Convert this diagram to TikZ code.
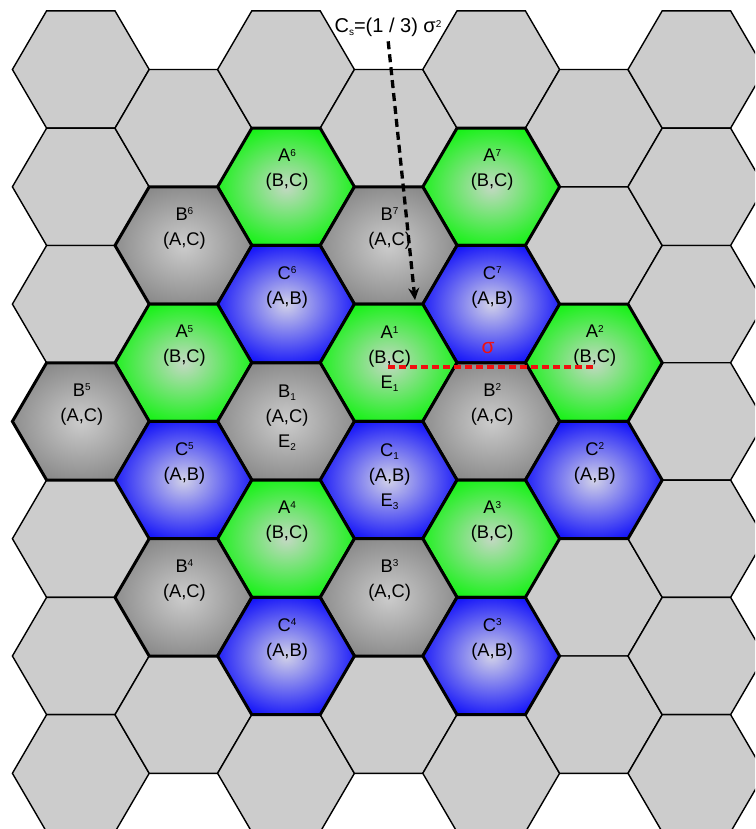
\documentclass[tikz,border=0pt]{standalone}
\usepackage{fontspec}
\setmainfont{Liberation Sans}
\usetikzlibrary{arrows.meta}
\definecolor{cellgray}{RGB}{204,204,204}
\definecolor{greenedge}{RGB}{22,242,22}
\definecolor{greenmid}{RGB}{196,216,196}
\definecolor{blueedge}{RGB}{6,6,250}
\definecolor{bluemid}{RGB}{210,210,232}
\definecolor{grayedge}{RGB}{100,100,100}
\definecolor{graymid}{RGB}{204,204,204}
\definecolor{sigmared}{RGB}{240,16,16}
\pgfdeclareradialshading{greenglow}{\pgfpoint{0bp}{0bp}}{color(0bp)=(greenmid); color(27bp)=(greenedge); color(50bp)=(greenedge)}
\pgfdeclareradialshading{blueglow}{\pgfpoint{0bp}{0bp}}{color(0bp)=(bluemid); color(29bp)=(blueedge); color(50bp)=(blueedge)}
\pgfdeclareradialshading{grayglow}{\pgfpoint{0bp}{0bp}}{color(0bp)=(graymid); color(42bp)=(grayedge); color(50bp)=(grayedge)}
\newcommand{\sups}[1]{\raisebox{5.6pt}{\fontsize{10}{10}\selectfont #1}}
\newcommand{\subs}[1]{\raisebox{-3pt}{\fontsize{10}{10}\selectfont #1}}

\begin{document}
\begin{tikzpicture}[x=1pt, y=-1pt,
    hexgray/.style={fill=cellgray, draw=black, line width=1.4pt},
    hexcolor/.style={draw=black, line width=3pt, shade, shading=#1},
    celltext/.style={font=\fontsize{18.3}{25}\selectfont, align=center, anchor=base, inner sep=0pt},
    csarrow/.style={black, line width=3.3pt, dash pattern=on 8pt off 5pt, -{Stealth[length=12pt, width=11pt]}},
    sigmaline/.style={sigmared, line width=3.2pt, dash pattern=on 7pt off 4pt}]
        \path[use as bounding box] (0,0) rectangle (755,829);
        \clip (0,0) rectangle (755,829);
        % Plain grey honeycomb
        \foreach \c in {0,...,6}{
          \pgfmathtruncatemacro{\kmax}{6-mod(\c,2)}
          \foreach \k in {0,...,\kmax}{
            \pgfmathsetmacro{\hx}{80.8+102.6*\c}
            \pgfmathsetmacro{\hy}{69.5+117.3*\k+58.65*mod(\c,2)}
            \draw[hexgray, shift={(\hx,\hy)}]
              (-68.4,0) -- (-34.2,-58.65) -- (34.2,-58.65) -- (68.4,0)
              -- (34.2,58.65) -- (-34.2,58.65) -- cycle;
          }
        }
        % Coloured cells of the cluster (last text line sits \dy below the centre)
        \foreach \c/\k/\tone/\lbl/\dy/\txt in {
            2/1/greenglow/asix/0/{A\sups{6}\\(B,C)},
            4/1/greenglow/aseven/0/{A\sups{7}\\(B,C)},
            1/1/grayglow/bsix/0/{B\sups{6}\\(A,C)},
            3/1/grayglow/bseven/0/{B\sups{7}\\(A,C)},
            2/2/blueglow/csix/0/{C\sups{6}\\(A,B)},
            4/2/blueglow/cseven/0/{C\sups{7}\\(A,B)},
            1/2/greenglow/afive/0/{A\sups{5}\\(B,C)},
            3/2/greenglow/aone/26/{A\sups{1}\\(B,C)\\E\subs{1}},
            5/2/greenglow/atwo/0/{A\sups{2}\\(B,C)},
            0/3/grayglow/bfive/0/{B\sups{5}\\(A,C)},
            2/3/grayglow/bone/26/{B\subs{1}\\(A,C)\\E\subs{2}},
            4/3/grayglow/btwo/0/{B\sups{2}\\(A,C)},
            1/3/blueglow/cfive/0/{C\sups{5}\\(A,B)},
            3/3/blueglow/cone/26/{C\subs{1}\\(A,B)\\E\subs{3}},
            5/3/blueglow/ctwo/0/{C\sups{2}\\(A,B)},
            2/4/greenglow/afour/0/{A\sups{4}\\(B,C)},
            4/4/greenglow/athree/0/{A\sups{3}\\(B,C)},
            1/4/grayglow/bfour/0/{B\sups{4}\\(A,C)},
            3/4/grayglow/bthree/0/{B\sups{3}\\(A,C)},
            2/5/blueglow/cfour/0/{C\sups{4}\\(A,B)},
            4/5/blueglow/cthree/0/{C\sups{3}\\(A,B)}}{
          \pgfmathsetmacro{\hx}{80.8+102.6*\c}
          \pgfmathsetmacro{\hy}{69.5+117.3*\k+58.65*mod(\c,2)}
          \draw[hexcolor=\tone, shift={(\hx,\hy)}]
            (-68.4,0) -- (-34.2,-58.65) -- (34.2,-58.65) -- (68.4,0)
            -- (34.2,58.65) -- (-34.2,58.65) -- cycle;
          \node[celltext] (\lbl) at (\hx+1,\hy+\dy) {\txt};
        }
        % Cluster size label and arrow
        \node[font=\fontsize{20}{24}\selectfont, anchor=base, inner sep=2pt] (cslabel)
          at (388,33) {C\subs{s}=(1 / 3) σ\sups{2}};
        \coordinate (cstip) at (415,300);
        \draw[csarrow, shorten <=2pt] (cslabel.south) -- (cstip);
        % Reuse distance
        \coordinate (sigstart) at (388,367);
        \coordinate (sigend) at (596,367);
        \draw[sigmaline] (sigstart) -- (sigend);
        \node[text=sigmared, font=\fontsize{21}{24}\selectfont, anchor=base, inner sep=0pt] (sigma)
          at (488,353.5) {σ};
      \end{tikzpicture}
\end{document}
